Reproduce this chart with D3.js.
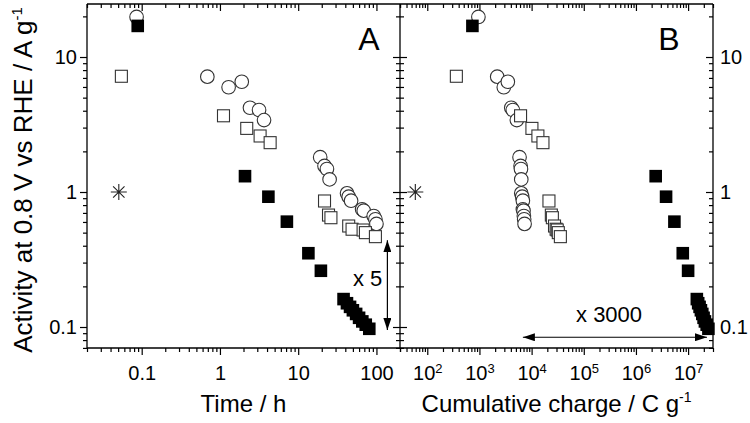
<!DOCTYPE html>
<html>
<head>
<meta charset="utf-8">
<script src="https://cdn.jsdelivr.net/npm/d3@7"></script>
<style>
  body { margin: 0; background: #fff; }
  svg { font-family: "Liberation Sans", Arial, Helvetica, sans-serif; }
  .axis line { stroke: #000; stroke-width: 1.2; }
  .axis text { fill: #000; font-size: 20px; }
</style>
</head>
<body>
<svg width="750" height="423"></svg>
<script>
// open circles
const circTime   = [0.086, 0.69, 1.29, 1.90, 2.42, 3.16, 3.66, 19.1, 21.7, 23.3, 25.2, 42.1, 44.2, 47.4, 65.6, 68.8, 92.3, 97, 100]
const circCharge = [955, 2190, 2930, 3500, 4075, 4360, 5210, 5870, 6150, 6250, 6330, 6330, 6600, 6800, 6800, 7000, 7110, 7200, 7330]
const circAct    = [19.8, 7.15, 5.97, 6.56, 4.21, 4.05, 3.41, 1.81, 1.56, 1.48, 1.24, 0.978, 0.923, 0.862, 0.744, 0.727, 0.664, 0.628, 0.58]

// open squares
const osqTime   = [0.055, 1.11, 2.2, 3.26, 4.38, 21.7, 24.4, 26.2, 44.2, 48.8, 67.5, 72.3, 97]
const osqCharge = [361, 6140, 10140, 13200, 16500, 21500, 23900, 25000, 27500, 29500, 31000, 32500, 35600]
const osqAct    = [7.2, 3.67, 2.96, 2.60, 2.32, 0.858, 0.675, 0.645, 0.56, 0.53, 0.523, 0.50, 0.467]

// filled squares
const fsqTime   = [0.089, 2.09, 4.16, 7.17, 13.5, 19.5, 38, 42, 46, 50, 55, 60, 66, 73, 81]
const fsqCharge = [733, 2.39e6, 3.78e6, 5.46e6, 7.9e6, 1.0e7, 1.47e7, 1.56e7, 1.66e7, 1.76e7, 1.87e7, 1.98e7, 2.1e7, 2.27e7, 2.45e7]
const fsqAct    = [17.0, 1.31, 0.923, 0.603, 0.352, 0.261, 0.161, 0.150, 0.141, 0.133, 0.125, 0.117, 0.110, 0.104, 0.097]

// asterisk
const starTime = [0.051], starCharge = [59], starAct = [1.0]

const yMajor = [0.1, 1, 10]
const xMajorA = [0.1, 1, 10, 100]
const xMajorB = [1e2, 1e3, 1e4, 1e5, 1e6, 1e7]

const svg = d3.select("svg")
const yTop = 4, yBot = 348, xLeft = 87, xMid = 400, xRight = 713

const y  = d3.scaleLog().domain([0.0699, 24.7]).range([yBot, yTop])
const xA = d3.scaleLog().domain([0.02, 200]).range([xLeft, xMid])
const xB = d3.scaleLog().domain([30, 3e7]).range([xMid, xRight])

function minors(scale) {
  const [a, b] = scale.domain()
  const out = []
  for (let e = Math.floor(Math.log10(a)); e <= Math.ceil(Math.log10(b)); e++)
    for (let m = 2; m <= 9; m++) {
      const v = m * Math.pow(10, e)
      if (v >= a && v <= b) out.push(v)
    }
  return out
}

function addAxis(axis, tx, ty) {
  return svg.append("g").attr("class", "axis")
      .attr("transform", "translate(" + tx + "," + ty + ")")
      .call(axis)
      .call(g => g.select(".domain").remove())
}

// ---- y axes
addAxis(d3.axisLeft(y).tickValues(yMajor).tickSize(7).tickPadding(3).tickFormat(d3.format("~g")), xLeft, 0)
addAxis(d3.axisLeft(y).tickValues(minors(y)).tickSize(4).tickFormat(""), xLeft, 0)
addAxis(d3.axisLeft(y).tickValues(yMajor).tickSize(7).tickFormat(""), xMid, 0)
addAxis(d3.axisRight(y).tickValues(yMajor).tickSize(7).tickFormat(""), xMid, 0)
addAxis(d3.axisLeft(y).tickValues(minors(y)).tickSize(4).tickFormat(""), xMid, 0)
addAxis(d3.axisRight(y).tickValues(minors(y)).tickSize(4).tickFormat(""), xMid, 0)
addAxis(d3.axisRight(y).tickValues(yMajor).tickSizeInner(-7).tickSizeOuter(0).tickPadding(7).tickFormat(d3.format("~g")), xRight, 0)
addAxis(d3.axisRight(y).tickValues(minors(y)).tickSizeInner(-4).tickSizeOuter(0).tickFormat(""), xRight, 0)

// ---- x axes, panel A
addAxis(d3.axisBottom(xA).tickValues(xMajorA).tickSize(7).tickPadding(11).tickFormat(d3.format("~g")), 0, yBot)
addAxis(d3.axisBottom(xA).tickValues(minors(xA)).tickSize(4).tickFormat(""), 0, yBot)
addAxis(d3.axisTop(xA).tickValues(xMajorA).tickSizeInner(-7).tickSizeOuter(0).tickFormat(""), 0, yTop)
addAxis(d3.axisTop(xA).tickValues(minors(xA)).tickSizeInner(-4).tickSizeOuter(0).tickFormat(""), 0, yTop)

// ---- x axes, panel B
const bAx = addAxis(d3.axisBottom(xB).tickValues(xMajorB).tickSize(7).tickPadding(11).tickFormat(() => "10"), 0, yBot)
bAx.selectAll(".tick text").append("tspan")
    .attr("dy", "-0.55em").attr("font-size", "13px")
    .text(d => Math.round(Math.log10(d)))
addAxis(d3.axisBottom(xB).tickValues(minors(xB)).tickSize(4).tickFormat(""), 0, yBot)
addAxis(d3.axisTop(xB).tickValues(xMajorB).tickSizeInner(-7).tickSizeOuter(0).tickFormat(""), 0, yTop)
addAxis(d3.axisTop(xB).tickValues(minors(xB)).tickSizeInner(-4).tickSizeOuter(0).tickFormat(""), 0, yTop)

// frame
const frame = svg.append("g").attr("stroke", "#000").attr("stroke-width", 1.3)
frame.append("line").attr("x1", xLeft).attr("x2", xRight).attr("y1", yTop).attr("y2", yTop)
frame.append("line").attr("x1", xLeft).attr("x2", xRight).attr("y1", yBot).attr("y2", yBot)
;[xLeft, xMid, xRight].forEach(x =>
  frame.append("line").attr("x1", x).attr("x2", x).attr("y1", yTop).attr("y2", yBot))

// ---- markers
function drawPanel(x, circX, osqX, fsqX, starX) {
  const g = svg.append("g")
  g.selectAll("circle.o").data(circX).enter().append("circle")
      .attr("cx", d => x(d)).attr("cy", (d, i) => y(circAct[i])).attr("r", 6.8)
      .attr("fill", "#fff").attr("stroke", "#333").attr("stroke-width", 1.1)
  g.selectAll("rect.o").data(osqX).enter().append("rect")
      .attr("x", d => x(d) - 6).attr("y", (d, i) => y(osqAct[i]) - 6)
      .attr("width", 12).attr("height", 12)
      .attr("fill", "#fff").attr("stroke", "#333").attr("stroke-width", 1.1)
  g.selectAll("rect.f").data(fsqX).enter().append("rect")
      .attr("x", d => x(d) - 6.3).attr("y", (d, i) => y(fsqAct[i]) - 6.3)
      .attr("width", 12.6).attr("height", 12.6).attr("fill", "#000")
  g.selectAll("path.s").data(starX).enter().append("path")
      .attr("transform", (d, i) => "translate(" + x(d) + "," + y(starAct[i]) + ")")
      .attr("d", "M-8,0H8M0,-8V8M-5.7,-5.7L5.7,5.7M-5.7,5.7L5.7,-5.7")
      .attr("stroke", "#222").attr("stroke-width", 1.1).attr("fill", "none")
}
drawPanel(xA, circTime, osqTime, fsqTime, starTime)
drawPanel(xB, circCharge, osqCharge, fsqCharge, starCharge)

// ---- arrows
const defs = svg.append("defs")
defs.append("marker").attr("id", "ah").attr("viewBox", "0 0 12 8")
    .attr("refX", 12).attr("refY", 4).attr("markerWidth", 12).attr("markerHeight", 8)
    .attr("markerUnits", "userSpaceOnUse").attr("orient", "auto-start-reverse")
  .append("path").attr("d", "M0,0L12,4L0,8Z").attr("fill", "#000")

svg.append("line")
    .attr("x1", xA(138)).attr("x2", xA(138)).attr("y1", y(0.44)).attr("y2", y(0.095))
    .attr("stroke", "#000").attr("stroke-width", 1.2)
    .attr("marker-start", "url(#ah)").attr("marker-end", "url(#ah)")
svg.append("text").attr("x", xA(50)).attr("y", y(0.2)).attr("font-size", 22).text("x 5")

svg.append("line")
    .attr("x1", xB(6800)).attr("x2", xB(2.3e7)).attr("y1", y(0.084)).attr("y2", y(0.084))
    .attr("stroke", "#000").attr("stroke-width", 1.2)
    .attr("marker-start", "url(#ah)").attr("marker-end", "url(#ah)")
svg.append("text").attr("x", xB(71000)).attr("y", y(0.108)).attr("font-size", 22).text("x 3000")

// ---- panel letters
svg.append("text").attr("x", 369).attr("y", 50).attr("text-anchor", "middle").attr("font-size", 32).text("A")
svg.append("text").attr("x", 669).attr("y", 50).attr("text-anchor", "middle").attr("font-size", 32).text("B")

// ---- axis titles
svg.append("text").attr("x", (xLeft + xMid) / 2).attr("y", 412).attr("text-anchor", "middle")
    .attr("font-size", 24).text("Time / h")
const tb = svg.append("text").attr("x", (xMid + xRight) / 2).attr("y", 412).attr("text-anchor", "middle")
    .attr("font-size", 24).text("Cumulative charge / C g")
tb.append("tspan").attr("dy", "-0.7em").attr("font-size", 14).text("-1")

const ty = svg.append("text").attr("transform", "translate(32,180) rotate(-90)")
    .attr("text-anchor", "middle").attr("font-size", 26).text("Activity at 0.8 V vs RHE / A g")
ty.append("tspan").attr("dy", "-0.7em").attr("font-size", 15).text("-1")
</script>
</body>
</html>
